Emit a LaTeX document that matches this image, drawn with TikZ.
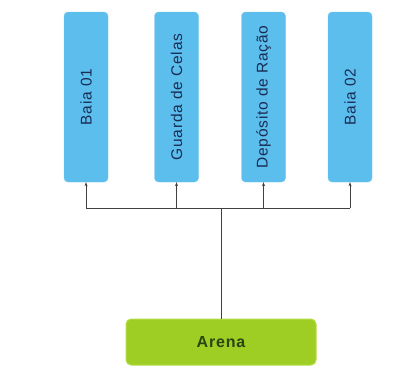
\documentclass[tikz,border=0pt]{standalone}
\usepackage{fontspec}
\setmainfont{Liberation Sans}
\newfontfamily\labelfont[LetterSpace=5]{Liberation Sans}
\usetikzlibrary{arrows.meta}
\definecolor{boxblue}{RGB}{92,190,236}
\definecolor{boxblueedge}{RGB}{120,200,240}
\definecolor{arenagreen}{RGB}{158,206,36}
\definecolor{arenaedge}{RGB}{180,222,70}
\definecolor{bluetext}{RGB}{25,45,85}
\definecolor{greentext}{RGB}{40,70,20}
\tikzset{
  x=1pt, y=-1pt,
  stall/.style={draw=boxblueedge, fill=boxblue, rounded corners=4pt,
    minimum width=44pt, minimum height=170pt, inner sep=0pt},
  stalltext/.style={rotate=90, font=\labelfont\fontsize{15.5}{18}\selectfont, text=bluetext},
  arenabox/.style={draw=arenaedge, line width=1pt, fill=arenagreen, rounded corners=5pt,
    minimum width=190pt, minimum height=46pt, inner sep=0pt,
    font=\labelfont\fontsize{16}{19}\selectfont\bfseries, text=greentext},
  link/.style={draw=black!75, line width=0.7pt},
  feed/.style={link, -{Stealth[length=4pt,width=3pt]}}
}
\begin{document}
\begin{tikzpicture}
\useasboundingbox (0,0) rectangle (398,370);
\node[stall] (b1) at (86,97) {};
\node[stalltext] at (b1.center) {Baia 01};
\node[stall] (b2) at (176.5,97) {};
\node[stalltext] at (b2.center) {Guarda de Celas};
\node[stall] (b3) at (263.5,97) {};
\node[stalltext] at (b3.center) {Depósito de Ração};
\node[stall] (b4) at (350,97) {};
\node[stalltext] at (b4.center) {Baia 02};
\node[arenabox] (arena) at (221,342) {Arena};
\coordinate (hub) at (221,208);
\draw[link] (arena.north) -- (hub);
\draw[link] (b1.south |- hub) -- (b4.south |- hub);
\foreach \b in {b1,b2,b3,b4}
  \draw[feed] (\b.south |- hub) -- (\b.south);
\end{tikzpicture}
\end{document}
